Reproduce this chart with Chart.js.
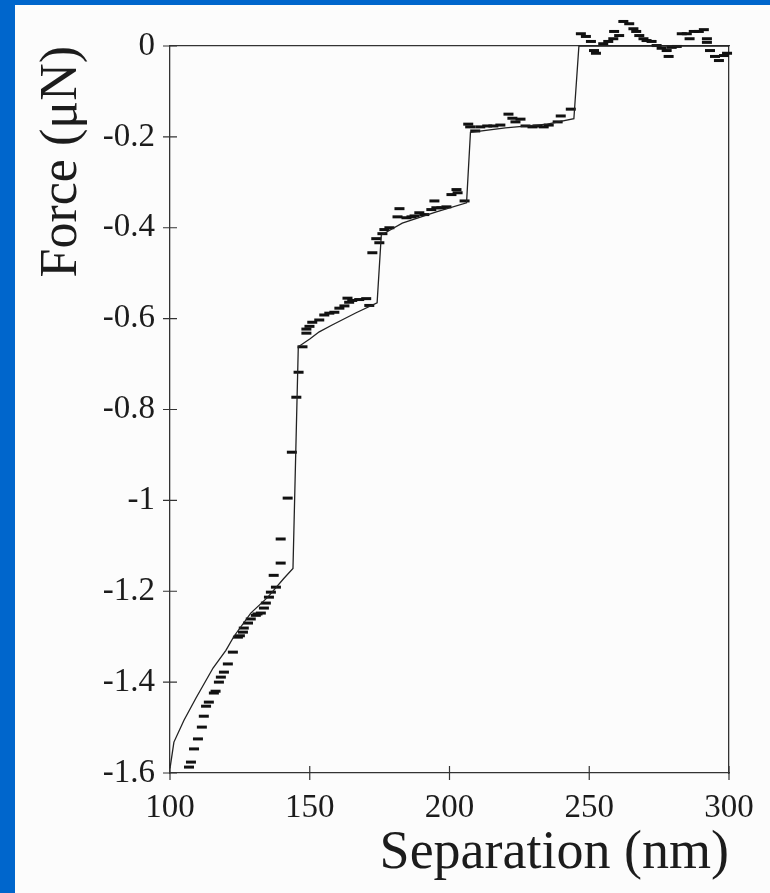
<!DOCTYPE html>
<html>
<head>
<meta charset="utf-8">
<script src="https://cdn.jsdelivr.net/npm/chart.js@4/dist/chart.umd.min.js"></script>
<style>
  html, body { margin: 0; padding: 0; }
  body { width: 770px; height: 893px; background: rgb(0,102,204); position: relative; overflow: hidden; }
  #wrap { position: absolute; left: 15px; top: 5px; width: 755px; height: 888px; background: #fcfcfc; }
  canvas { display: block; }
</style>
</head>
<body>
<div id="wrap"><canvas id="c" width="755" height="888"></canvas></div>
<script>
// ---- data ----
const xTicks = [100, 150, 200, 250, 300];
const yTicks = [0, -0.2, -0.4, -0.6, -0.8, -1, -1.2, -1.4, -1.6];

// measured force points (dashes)
const sepData = [
  106.8,107.5,108.6,110.0,111.4,112.1,112.9,113.9,115.7,116.3,117.5,118.2,119.3,120.7,122.5,124.3,125.0,126.1,126.4,127.9,
  128.9,130.7,131.3,132.5,133.6,134.3,135.4,136.1,137.9,137.1,139.6,139.6,142.1,143.6,145.2,146.0,147.4,148.8,148.8,149.9,
  150.9,153.4,155.2,157.0,158.8,160.6,162.4,164.1,163.5,165.2,167.7,170.2,171.3,
  172.4,173.8,174.9,176.0,176.7,178.5,181.4,182.1,184.6,186.4,187.5,189.2,191.0,193.5,194.6,195.3,197.1,198.9,200.7,202.5,
  202.9,205.4,
  206.7,207.4,209.2,211.0,213.5,215.7,218.2,221.1,222.5,223.6,225.4,227.2,229.7,231.5,233.7,235.5,238.7,239.8,243.4,
  247.0,248.8,250.6,251.7,252.4,255.0,256.8,258.6,258.9,260.7,262.2,264.3,265.8,266.8,267.9,269.4,270.5,272.3,274.1,275.9,
  277.7,278.4,279.5,281.3,283.1,284.9,285.9,287.4,289.2,291.0,292.1,292.1,293.2,295.0,296.4,298.2,299.3
];
const forceData = [
  -1.587,-1.576,-1.547,-1.525,-1.499,-1.475,-1.453,-1.444,-1.424,-1.420,-1.400,-1.389,-1.378,-1.360,-1.334,-1.301,-1.298,-1.290,-1.281,-1.270,
  -1.261,-1.253,-1.250,-1.248,-1.237,-1.226,-1.213,-1.202,-1.191,-1.165,-1.138,-1.085,-0.995,-0.894,-0.773,-0.718,-0.662,-0.632,-0.623,-0.617,
  -0.608,-0.603,-0.592,-0.588,-0.586,-0.577,-0.572,-0.564,-0.555,-0.560,-0.558,-0.556,-0.571,
  -0.455,-0.424,-0.433,-0.413,-0.404,-0.400,-0.376,-0.358,-0.378,-0.376,-0.374,-0.367,-0.371,-0.360,-0.341,-0.356,-0.356,-0.354,-0.327,-0.316,
  -0.323,-0.341,
  -0.172,-0.178,-0.187,-0.178,-0.176,-0.176,-0.174,-0.150,-0.159,-0.167,-0.161,-0.176,-0.178,-0.176,-0.178,-0.174,-0.167,-0.154,-0.139,
  0.027,0.021,0.010,-0.010,-0.016,0.005,0.010,0.016,0.032,0.023,0.054,0.049,0.038,0.032,0.023,0.016,0.012,0.010,0.001,-0.005,
  -0.010,-0.023,-0.003,-0.001,0.027,0.027,0.016,0.032,0.032,0.036,0.016,0.008,-0.010,-0.023,-0.032,-0.021,-0.016
];

// model curve (solid line)
const modelSep = [100, 101.4, 105, 109.3, 115.4, 120, 122.9, 128.9, 135, 140.7, 144, 145.9, 150, 153.4, 158, 166.6, 174.1,
  175.6, 183.1, 195.3, 206.1, 207.5, 220, 235, 244.5, 246.3, 300];
const modelForce = [-1.59, -1.532, -1.484, -1.435, -1.369, -1.330, -1.299, -1.248, -1.213, -1.172, -1.150, -0.662, -0.645, -0.629, -0.614, -0.587, -0.565,
  -0.416, -0.390, -0.365, -0.345, -0.19, -0.18, -0.172, -0.16, 0, 0];

const xTitle = 'Separation (nm)';
const yTitle = 'Force (\u03BCN)';

// ---- chart ----
const serif = "'Liberation Serif', 'Times New Roman', serif";
const ink = '#1c1c1c';

const points = sepData.map((x, i) => ({x: x, y: forceData[i]}));
const model = modelSep.map((x, i) => ({x: x, y: modelForce[i]}));

// let the measured dashes that rise above the 0 frame line still be drawn
const openTop = {
  id: 'openTop',
  beforeDatasetDraw(chart, args) {
    chart.$savedArea = chart.chartArea;
    const a = chart.chartArea;
    chart.chartArea = {left: a.left, right: a.right, top: a.top - 45, bottom: a.bottom, width: a.width, height: a.height + 45};
  },
  afterDatasetDraw(chart) {
    if (chart.$savedArea) { chart.chartArea = chart.$savedArea; chart.$savedArea = null; }
  }
};

const crossTicks = {
  id: 'crossTicks',
  afterDraw(chart) {
    const ctx = chart.ctx;
    const xs = chart.scales.x, ys = chart.scales.y;
    const L = 7;
    ctx.save();
    ctx.strokeStyle = '#333';
    ctx.lineWidth = 1.2;
    ctx.beginPath();
    xTicks.forEach(v => {
      const px = xs.getPixelForValue(v);
      ctx.moveTo(px, xs.top - L); ctx.lineTo(px, xs.top + L);
    });
    yTicks.forEach(v => {
      const py = ys.getPixelForValue(v);
      ctx.moveTo(ys.right - L, py); ctx.lineTo(ys.right + L, py);
    });
    ctx.stroke();
    ctx.restore();
  }
};

new Chart(document.getElementById('c'), {
  type: 'scatter',
  data: {
    datasets: [
      {
        data: model,
        showLine: true,
        borderColor: '#222',
        borderWidth: 1.3,
        pointRadius: 0,
        tension: 0,
        clip: false
      },
      {
        data: points,
        showLine: false,
        pointStyle: 'line',
        pointRadius: 5,
        pointBorderWidth: 3,
        pointBorderColor: '#111',
        pointBackgroundColor: '#111',
        clip: false
      }
    ]
  },
  options: {
    responsive: false,
    animation: false,
    events: [],
    plugins: { legend: { display: false }, tooltip: { enabled: false } },
    layout: { padding: 0 },
    scales: {
      x: {
        type: 'linear', position: 'bottom', min: 100, max: 300,
        afterBuildTicks: s => { s.ticks = xTicks.map(v => ({value: v})); },
        afterFit: s => { s.height = 120; },
        grid: { display: true, drawOnChartArea: false, drawTicks: false },
        border: { display: true, color: '#333', width: 1.3 },
        ticks: { padding: 16, color: ink, font: { family: serif, size: 33 }, callback: v => String(v), maxRotation: 0 },
        title: { display: true, text: xTitle, align: 'end', color: ink, font: { family: serif, size: 54, lineHeight: 1.2 }, padding: { top: 0, bottom: 7 } }
      },
      x2: {
        type: 'linear', position: 'top', min: 100, max: 300,
        afterFit: s => { s.height = 41; },
        grid: { display: false, drawTicks: false },
        border: { display: true, color: '#333', width: 1.3 },
        ticks: { display: false }
      },
      y: {
        type: 'linear', position: 'left', min: -1.6, max: 0,
        afterBuildTicks: s => { s.ticks = yTicks.map(v => ({value: v})); },
        afterFit: s => { s.width = 155; },
        grid: { display: true, drawOnChartArea: false, drawTicks: false },
        border: { display: true, color: '#333', width: 1.3 },
        ticks: { padding: 15, color: ink, font: { family: serif, size: 33 }, callback: v => String(v) },
        title: { display: true, text: yTitle, align: 'end', color: ink, font: { family: serif, size: 52, lineHeight: 1.2 }, padding: { top: 16, bottom: 0 } }
      },
      y2: {
        type: 'linear', position: 'right', min: -1.6, max: 0,
        afterFit: s => { s.width = 41; },
        grid: { display: false, drawTicks: false },
        border: { display: true, color: '#333', width: 1.3 },
        ticks: { display: false }
      }
    }
  },
  plugins: [openTop, crossTicks]
});
</script>
</body>
</html>
